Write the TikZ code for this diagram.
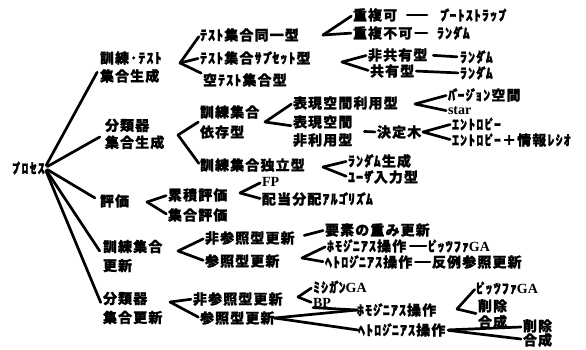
\documentclass[tikz,border=0pt]{standalone}
\usepackage{fontspec}
\setmainfont{Noto Sans CJK JP}[LetterSpace=8,BoldFeatures={FakeBold=1.2}]
\newfontfamily\latf{Liberation Serif}
\newcommand\dkt{{\kern-2pt ﾞ\kern-2.5pt}}
\newcommand\hdk{{\kern-2pt ﾟ\kern-2.5pt}}
\begin{document}
\begin{tikzpicture}[x=1pt,y=-1pt,
  t/.style={anchor=west,inner sep=0pt,outer sep=0pt,align=left,font=\fontsize{14}{18}\selectfont\bfseries},
  ln/.style={line width=2.7pt,line cap=round},
  arm/.style={ln,shorten >=2pt}]
\useasboundingbox[fill=white] (0,0) rectangle (586,349);
% root and level 1
\node[t] (root) at (12,168) {ﾌ\hdk ﾛｾｽ};
\node[t] (A) at (100,67) {訓練･ﾃｽﾄ\\集合生成};
\node[t] (B) at (105,134) {分類器\\[-1pt]集合生成};
\node[t] (C) at (100,201) {評価};
\node[t] (D) at (103,256) {訓練集合\\[1pt]更新};
\node[t] (E) at (103,308) {分類器\\[1pt]集合更新};
\foreach \n in {A,B,C,D,E} \draw[ln,shorten <=3pt,shorten >=6pt] (root.east) -- (\n.west);
% branch A
\coordinate (vA) at (180,63);
\node[t] (A1) at (200,35) {ﾃｽﾄ集合同一型};
\node[t] (A2) at (200,58) {ﾃｽﾄ集合ｻﾌ\dkt ｾｯﾄ型};
\node[t] (A3) at (203,80) {空ﾃｽﾄ集合型};
\draw[arm] (vA) -- (A1.west);
\draw[arm] (vA) -- (A2.west);
\draw[arm] (vA) -- ([yshift=6pt]A3.west);
\coordinate (vA1) at (323,35);
\node[t] (A11) at (353,15) {重複可};
\node[t] (A12) at (353,33) {重複不可};
\draw[arm] (vA1) -- (A11.west);
\draw[arm] (vA1) -- (A12.west);
\node[t] (A111) at (440,15) {ﾌ\dkt ｰﾄｽﾄﾗｯﾌ\hdk};
\node[t] (A121) at (437,33) {ﾗﾝﾀ\dkt ﾑ};
\draw[ln,shorten <=10pt,shorten >=13pt] (A11.east) -- (A111.west);
\draw[ln,shorten <=3pt,shorten >=10pt] (A12.east) -- (A121.west);
\coordinate (vA2) at (342,62);
\node[t] (A21) at (368,55) {非共有型};
\node[t] (A22) at (370,71) {共有型};
\draw[arm] (vA2) -- (A21.west);
\draw[arm] (vA2) -- (A22.west);
\node[t] (A211) at (460,57) {ﾗﾝﾀ\dkt ﾑ};
\node[t] (A221) at (460,73) {ﾗﾝﾀ\dkt ﾑ};
\draw[ln,shorten <=6pt,shorten >=3pt] (A21.east) -- (A211.west);
\draw[ln,shorten <=2pt,shorten >=2pt] (A22.east) -- (A221.west);
% branch B
\coordinate (vB) at (178,135);
\node[t] (B1) at (200,122) {訓練集合\\[2pt]依存型};
\node[t] (B2) at (200,165) {訓練集合独立型};
\draw[arm] (vB) -- ([yshift=1pt]B1.west);
\draw[arm] (vB) -- (B2.west);
\coordinate (vB1) at (265,122);
\node[t] (B11) at (293,103) {表現空間利用型};
\node[t] (B12) at (293,131) {表現空間\\非利用型};
\draw[arm] (vB1) -- (B11.west);
\draw[arm] (vB1) -- ([yshift=5pt]B12.west);
\coordinate (vB11) at (415,104);
\node[t] (B111) at (448,95) {ﾊ\dkt ｰｼ\dkt ｮﾝ空間};
\node[t] (B112) at (448,111) {\latf\bfseries star};
\draw[arm] (vB11) -- (B111.west);
\draw[arm] (vB11) -- (B112.west);
\node[t] (B121) at (377,132) {決定木};
\draw[ln,shorten <=12pt,shorten >=2pt] (B12.east) -- (B121.west);
\coordinate (vB121) at (423,132);
\node[t] (B1211) at (452,124) {ｴﾝﾄﾛﾋ\hdk ｰ};
\node[t] (B1212) at (452,140) {ｴﾝﾄﾛﾋ\hdk ｰ＋情報ﾚｼｵ};
\draw[arm] (vB121) -- (B1211.west);
\draw[arm] (vB121) -- (B1212.west);
\coordinate (vB2) at (323,167);
\node[t] (B21) at (348,161) {ﾗﾝﾀ\dkt ﾑ生成};
\node[t] (B22) at (348,177) {ﾕｰｻ\dkt 入力型};
\draw[arm] (vB2) -- (B21.west);
\draw[arm] (vB2) -- (B22.west);
% branch C
\coordinate (vC) at (147,202);
\node[t] (C1) at (168,195) {累積評価};
\node[t] (C2) at (168,215) {集合評価};
\draw[arm] (vC) -- (C1.west);
\draw[arm] (vC) -- (C2.west);
\coordinate (vC1) at (240,193);
\node[t] (C11) at (262,182) {\latf\bfseries FP};
\node[t] (C12) at (262,199) {配当分配ｱﾙｺ\dkt ﾘｽ\dkt ﾑ};
\draw[arm] (vC1) -- (C11.west);
\draw[arm] (vC1) -- (C12.west);
% branch D
\coordinate (vD) at (178,251);
\node[t] (D1) at (205,238) {非参照型更新};
\node[t] (D2) at (205,261) {参照型更新};
\draw[arm] (vD) -- (D1.west);
\draw[arm] (vD) -- (D2.west);
\node[t] (D11) at (325,230) {要素の重み更新};
\draw[ln,shorten <=10pt,shorten >=2pt] (D1.east) -- (D11.west);
\coordinate (vD2) at (302,258);
\node[t] (D21) at (327,246) {ﾎﾓｼ\dkt ﾆｱｽ操作};
\node[t] (D22) at (325,262) {ﾍﾄﾛｼ\dkt ﾆｱｽ操作};
\draw[arm] (vD2) -- (D21.west);
\draw[arm] (vD2) -- (D22.west);
\node[t] (D211) at (428,246) {ﾋ\hdk ｯﾂﾌｧ{\latf\bfseries GA}};
\node[t] (D221) at (432,262) {反例参照更新};
\draw[ln,shorten <=4pt,shorten >=2pt] (D21.east) -- (D211.west);
\draw[ln,shorten <=3pt,shorten >=2pt] (D22.east) -- (D221.west);
% branch E
\coordinate (vE) at (170,302);
\node[t] (E1) at (193,299) {非参照型更新};
\node[t] (E2) at (200,318) {参照型更新};
\draw[arm] (vE) -- (E1.west);
\draw[arm] (vE) -- (E2.west);
\coordinate (vE1) at (298,297);
\node[t] (E11) at (313,287) {ﾐｼｶ\dkt ﾝ{\latf\bfseries GA}};
\node[t] (E12) at (313,303) {\latf\bfseries BP};
\draw[arm] (vE1) -- (E11.west);
\draw[arm] (vE1) -- (E12.west);
\node[t] (E21) at (357,310) {ﾎﾓｼ\dkt ﾆｱｽ操作};
\node[t] (E22) at (358,330) {ﾍﾄﾛｼ\dkt ﾆｱｽ操作};
\draw[ln] (E2.east) -- (E21.west);
\draw[ln] (E2.east) -- (E22.west);
\draw[ln] (E12.south west) -- (E21.west);
\coordinate (vE21) at (457,309);
\node[t] (E211) at (476,288) {ﾋ\hdk ｯﾂﾌｧ{\latf\bfseries GA}};
\node[t] (E212) at (478,314) {削除\\[-2pt]合成};
\draw[arm] (vE21) -- (E211.west);
\draw[arm] (vE21) -- (E212.west);
\node[t] (E221) at (523,333) {削除\\[-4pt]合成};
\draw[ln,shorten <=3pt] (E22.east) -- ([shift={(-2pt,6pt)}]E221.west);
\draw[ln,shorten <=3pt] (E22.east) -- ([shift={(-2pt,-6pt)}]E221.west);
\end{tikzpicture}
\end{document}
